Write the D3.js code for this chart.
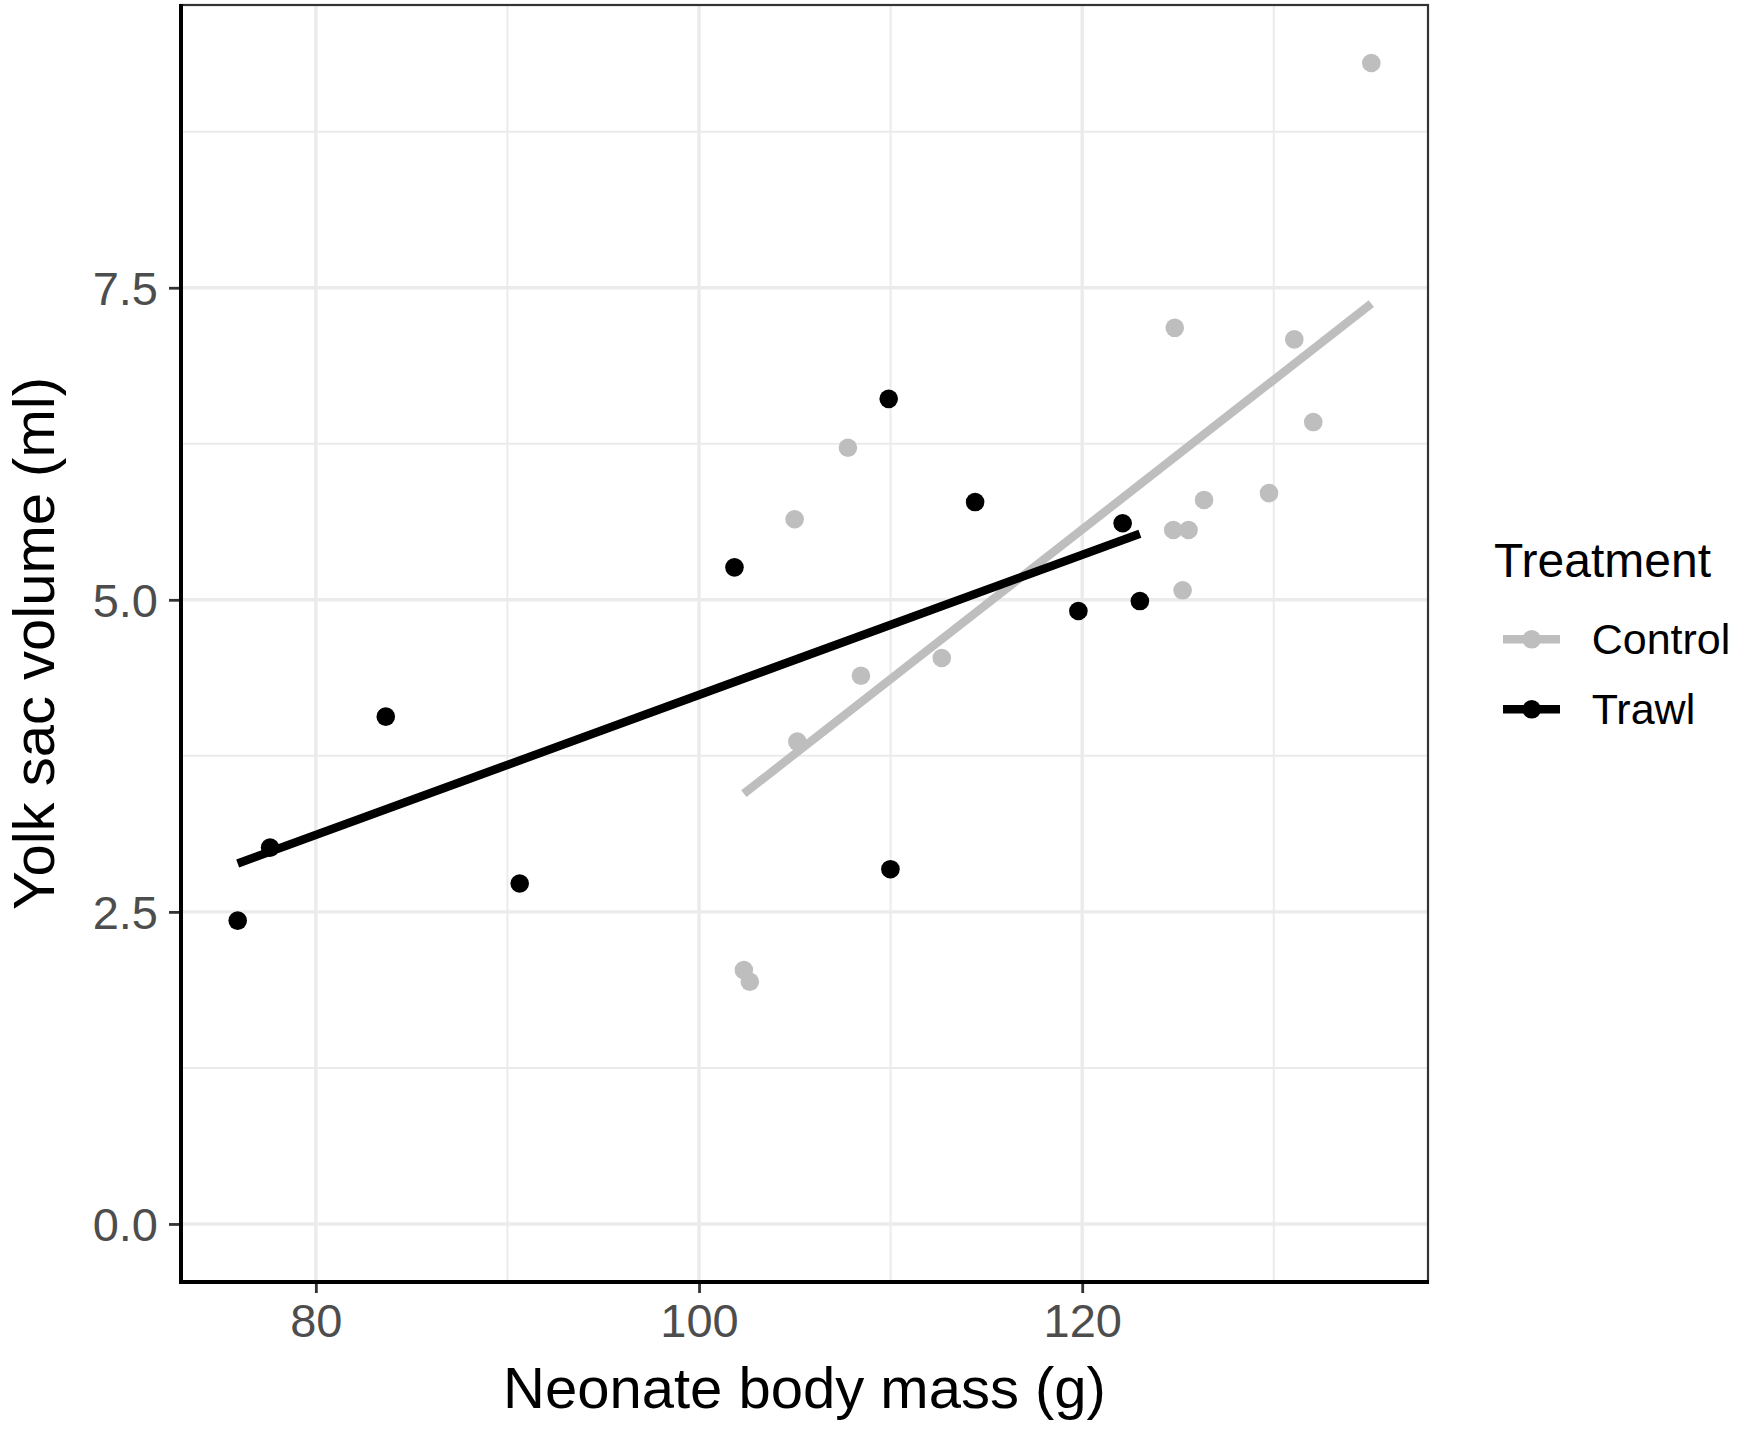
<!DOCTYPE html>
<html>
<head>
<meta charset="utf-8">
<script src="https://cdn.jsdelivr.net/npm/d3@7"></script>
<style>
  body{margin:0;background:#fff;}
  text{font-family:"Liberation Sans",Arial,sans-serif;}
</style>
</head>
<body>
<div class="canvas"></div>
<script>
// data
const groups=['Control','Trawl'];
const groupColors=['#BEBEBE','#000000'];

const controlMass=[102.34,102.65,104.99,105.13,107.77,108.45,112.67,124.75,125.55,124.83,125.24,126.36,129.75,131.07,132.06,135.09];
const controlYolk=[2.034,1.94,5.645,3.864,6.218,4.392,4.534,5.559,5.559,7.179,5.076,5.80,5.855,7.086,6.424,9.30];

const trawlMass=[75.92,77.61,83.65,90.64,101.85,109.90,109.99,114.41,119.80,122.11,123.01];
const trawlYolk=[2.43,3.015,4.064,2.727,5.26,6.61,2.842,5.783,4.91,5.613,4.99];

const xTicks=[80,100,120];
const yTicks=[0,2.5,5,7.5];

const dims={width:1737,height:1429};
const panel={left:181,right:1428,top:5,bottom:1282};

const series=[
  {name:groups[0],color:groupColors[0],pts:controlMass.map((m,i)=>({x:m,y:controlYolk[i]}))},
  {name:groups[1],color:groupColors[1],pts:trawlMass.map((m,i)=>({x:m,y:trawlYolk[i]}))}
];
const allPts=series.flatMap(s=>s.pts);

// ggplot style 5% expansion, y limits include 0
const pad=(lo,hi)=>{const d=(hi-lo)*0.05;return [lo-d,hi+d];};
const xExt=d3.extent(allPts,d=>d.x);
const yExt=[Math.min(0,d3.min(allPts,d=>d.y)),d3.max(allPts,d=>d.y)];

const x=d3.scaleLinear().domain(pad(...xExt)).range([panel.left,panel.right]);
const y=d3.scaleLinear().domain(pad(...yExt)).range([panel.bottom,panel.top]);

// least squares fit, like geom_smooth(method='lm', se=FALSE)
const fit=(pts)=>{
  const mx=d3.mean(pts,d=>d.x), my=d3.mean(pts,d=>d.y);
  const b=d3.sum(pts,d=>(d.x-mx)*(d.y-my))/d3.sum(pts,d=>(d.x-mx)**2);
  const a=my-b*mx;
  const [x0,x1]=d3.extent(pts,d=>d.x);
  return [{x:x0,y:a+b*x0},{x:x1,y:a+b*x1}];
};

const svg=d3.select('.canvas')
.append('svg')
.attr('width',dims.width)
.attr('height',dims.height);

// minor ticks sit half way between majors
const minors=(ticks,dom)=>{
  const step=ticks[1]-ticks[0];
  return [ticks[0]-step/2,...ticks.map(t=>t+step/2)].filter(v=>v>dom[0]&&v<dom[1]);
};

const grid=svg.append('g');
grid.selectAll('.xminor').data(minors(xTicks,x.domain())).enter().append('line')
.attr('x1',d=>x(d)).attr('x2',d=>x(d)).attr('y1',panel.top).attr('y2',panel.bottom)
.attr('stroke','#EBEBEB').attr('stroke-width',2);
grid.selectAll('.yminor').data(minors(yTicks,y.domain())).enter().append('line')
.attr('y1',d=>y(d)).attr('y2',d=>y(d)).attr('x1',panel.left).attr('x2',panel.right)
.attr('stroke','#EBEBEB').attr('stroke-width',2);
grid.selectAll('.xmajor').data(xTicks).enter().append('line')
.attr('x1',d=>x(d)).attr('x2',d=>x(d)).attr('y1',panel.top).attr('y2',panel.bottom)
.attr('stroke','#EBEBEB').attr('stroke-width',3.4);
grid.selectAll('.ymajor').data(yTicks).enter().append('line')
.attr('y1',d=>y(d)).attr('y2',d=>y(d)).attr('x1',panel.left).attr('x2',panel.right)
.attr('stroke','#EBEBEB').attr('stroke-width',3.4);

// points
series.forEach(s=>{
  svg.append('g').selectAll('circle')
  .data(s.pts).enter().append('circle')
  .attr('cx',d=>x(d.x)).attr('cy',d=>y(d.y))
  .attr('r',9.3).attr('fill',s.color);
});

// fitted lines
const line=d3.line().x(d=>x(d.x)).y(d=>y(d.y));
series.forEach(s=>{
  svg.append('path')
  .attr('d',line(fit(s.pts)))
  .attr('fill','none').attr('stroke',s.color).attr('stroke-width',8.5);
});

// panel border (thin) then thick axis lines
svg.append('rect')
.attr('x',panel.left).attr('y',panel.top)
.attr('width',panel.right-panel.left).attr('height',panel.bottom-panel.top)
.attr('fill','none').attr('stroke','#333333').attr('stroke-width',2.2);

const xAxis=svg.append('g')
.attr('transform',`translate(0,${panel.bottom})`)
.call(d3.axisBottom(x).tickValues(xTicks).tickSize(11).tickSizeOuter(0));
const yAxis=svg.append('g')
.attr('transform',`translate(${panel.left},0)`)
.call(d3.axisLeft(y).tickValues(yTicks).tickFormat(d3.format('.1f')).tickSize(12).tickSizeOuter(0));

[xAxis,yAxis].forEach(g=>{
  g.select('.domain').remove();
  g.selectAll('.tick line').attr('stroke','#333333').attr('stroke-width',2.8);
  g.selectAll('.tick text').attr('fill','#4D4D4D').style('font-size','47px')
  .style('font-family','"Liberation Sans",Arial,sans-serif');
});
xAxis.selectAll('.tick text').attr('y',55).attr('dy',0);
yAxis.selectAll('.tick text').attr('x',-23).attr('dy','0.36em');

svg.append('line')
.attr('x1',panel.left).attr('x2',panel.left).attr('y1',panel.top-1).attr('y2',panel.bottom+2)
.attr('stroke','#000').attr('stroke-width',4);
svg.append('line')
.attr('x1',panel.left-2).attr('x2',panel.right+1).attr('y1',panel.bottom).attr('y2',panel.bottom)
.attr('stroke','#000').attr('stroke-width',4);

// axis titles
svg.append('text')
.attr('x',(panel.left+panel.right)/2).attr('y',1408)
.attr('text-anchor','middle').style('font-size','58px').attr('fill','#000')
.text('Neonate body mass (g)');
svg.append('text')
.attr('transform',`translate(54,${(panel.top+panel.bottom)/2}) rotate(-90)`)
.attr('text-anchor','middle').style('font-size','58px').attr('fill','#000')
.text('Yolk sac volume (ml)');

// legend
const legendGroup=svg.append('g').attr('transform','translate(1494,0)');
legendGroup.append('text')
.attr('x',0).attr('y',577).style('font-size','48px').attr('fill','#000')
.text('Treatment');
const keys=legendGroup.selectAll('.key').data(series).enter().append('g')
.attr('transform',(d,i)=>`translate(0,${639.3+i*70})`);
keys.append('line')
.attr('x1',9).attr('x2',66).attr('y1',0).attr('y2',0)
.attr('stroke',d=>d.color).attr('stroke-width',8.5);
keys.append('circle')
.attr('cx',37.7).attr('cy',0).attr('r',9.3).attr('fill',d=>d.color);
keys.append('text')
.attr('x',97.7).attr('y',14.5).style('font-size','43px').attr('fill','#000')
.text(d=>d.name);
</script>
</body>
</html>
